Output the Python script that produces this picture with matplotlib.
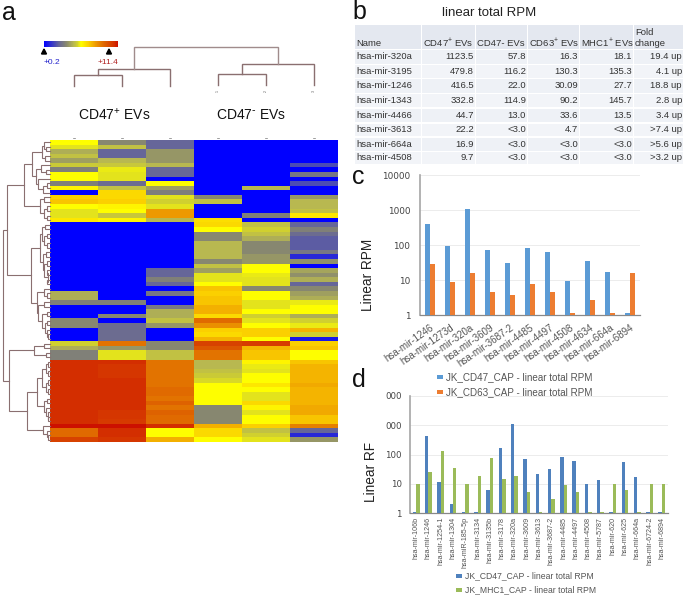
import numpy as np
import matplotlib
matplotlib.use("Agg")
import matplotlib.pyplot as plt
from matplotlib.colors import LinearSegmentedColormap
from matplotlib.patches import Rectangle, Polygon
from matplotlib.cm import ScalarMappable

plt.rcParams['font.family'] = ['Liberation Sans', 'DejaVu Sans']
plt.rcParams['mathtext.default'] = 'regular'

# ---------- data ----------
heat_rows = [
 [.50,.30,.20,0,0,0],[.47,.42,.20,0,0,0],[.38,.20,.33,0,0,0],[.42,.20,.33,0,0,0],
 [.35,.40,.33,0,0,0],[.44,.43,.40,0,0,.15],[.28,.48,.20,0,0,0],[.50,.47,.20,0,0,.25],
 [.50,.47,0,0,0,0],[.28,.22,.50,0,0,.15],[.52,.42,.35,0,.40,0],[0,.58,.27,0,0,0],
 [.60,.58,.47,.30,0,.33],[.62,.60,.45,.42,0,.40],[.50,.52,.47,0,0,.40],[.47,.50,.70,0,0,.42],
 [.47,.43,.70,0,.28,.55],[.55,.52,.40,.57,0,0],[0,0,0,.58,.42,.20],[0,0,0,.50,.45,.28],
 [0,0,0,.30,.42,.22],[0,0,0,.30,.38,.18],[0,0,0,.40,.30,.18],[0,0,0,.40,.30,.18],
 [0,0,0,.40,.30,.25],[0,0,0,.40,.33,.08],[0,0,0,.30,.33,.32],[0,0,0,.42,.50,0],
 [0,0,.20,.35,.50,.36],[0,0,.20,.47,.48,.32],[0,0,.28,.47,.47,.38],[0,0,.20,.50,.47,.20],
 [0,0,0,.62,.30,.30],[.38,0,.25,.60,.50,.35],[.38,0,0,.62,.50,.38],[.28,.28,0,.62,.47,.48],
 [0,0,.25,.66,.47,.50],[0,0,.38,.66,.50,.50],[0,.30,.38,.58,.45,.38],[.30,0,.42,.80,.47,.45],
 [.30,.22,.33,.72,.50,.48],[0,.22,0,.60,.60,.65],[0,.22,0,.58,.60,.45],[0,.22,0,.65,.50,.05],
 [.45,.78,.30,.90,.92,.60],[.38,.33,.30,.85,.65,.62],[.28,.47,.42,.78,.62,.50],[.28,.47,.42,.78,.62,.50],
 [.95,.95,.78,.40,.52,.62],[.95,.93,.78,.40,.48,.65],[.95,.93,.78,.42,.47,.65],[.95,.93,.78,.44,.50,.65],
 [.95,.95,.78,.46,.50,.65],[.95,.95,.78,.50,.55,.67],[.95,.95,.80,.50,.50,.65],[.95,.95,.80,.50,.47,.65],
 [.95,.95,.78,.50,.47,.65],[.95,.95,.82,.50,.58,.65],[.95,.95,.78,.30,.52,.67],[.95,.93,.82,.30,.47,.67],
 [.95,.93,.80,.30,.50,.62],[.95,.92,.80,.30,.50,.62],[1,1,.95,.66,.60,.75],[.80,.95,.50,.58,.42,.20],
 [.80,.95,.50,.58,.45,.08],[.90,.93,.66,.50,.47,.33],
]

table_header = ["Name", "CD47$^{+}$ EVs", "CD47- EVs", "CD63$^{+}$ EVs", "MHC1$^{+}$ EVs"]
table_header_last = ["Fold", "change"]
table_rows = [
 ["hsa-mir-320a","1123.5","57.8","16.3","18.1","19.4 up"],
 ["hsa-mir-3195","479.8","116.2","130.3","135.3","4.1 up"],
 ["hsa-mir-1246","416.5","22.0","30.09","27.7","18.8 up"],
 ["hsa-mir-1343","332.8","114.9","90.2","145.7","2.8 up"],
 ["hsa-mir-4466","44.7","13.0","33.6","13.5","3.4 up"],
 ["hsa-mir-3613","22.2","<3.0","4.7","<3.0",">7.4 up"],
 ["hsa-mir-664a","16.9","<3.0","<3.0","<3.0",">5.6 up"],
 ["hsa-mir-4508","9.7","<3.0","<3.0","<3.0",">3.2 up"],
]

c_labels = ["hsa-mir-1246","hsa-mir-1273d","hsa-mir-320a","hsa-mir-3609","hsa-mir-3687-2",
            "hsa-mir-4485","hsa-mir-4497","hsa-mir-4508","hsa-mir-4634","hsa-mir-664a","hsa-mir-6894"]
c_cd47 = [416, 95, 1123, 72, 31, 85, 64, 9.7, 35, 16.9, 1.15]
c_cd63 = [30, 9, 16.3, 4.7, 3.9, 8, 4.7, 1.15, 2.8, 1.15, 16]

d_labels = ["hsa-mir-106b","hsa-mir-1246","hsa-mir-1254-1","hsa-mir-1304","hsa-miR-185-5p","hsa-mir-3134",
            "hsa-mir-3135b","hsa-mir-3178","hsa-mir-320a","hsa-mir-3609","hsa-mir-3613","hsa-mir-3687-2",
            "hsa-mir-4485","hsa-mir-4497","hsa-mir-4508","hsa-mir-5787","hsa-mir-620","hsa-mir-625",
            "hsa-mir-664a","hsa-mir-6724-2","hsa-mir-6894"]
d_cd47 = [1.15, 420, 12, 2, 1.15, 1.15, 6, 170, 1120, 72, 22, 31, 83, 62, 9.7, 13.5, 1.15, 55, 17, 1.15, 1.15]
d_mhc1 = [9.7, 26, 130, 34, 9.7, 19, 75, 14.5, 18, 5.3, 1.15, 3, 9, 5.3, 1.15, 1.15, 9.7, 6.3, 1.15, 9.7, 10]

# row dendrogram: (join x in px, child, child); an int is a heatmap row
row_tree = (3,
  (7,
    (24,
      (32,(42,(44,0,(46,1,2)),(45,3,4)),(36,(41,5,(46,6,7)),(38,8,(43,(47,9,10),11)))),
      (40,(44,12,13),(44,(47,14,15),(47,16,17)))),
    (31,
      (40,(42,(45,18,19),(44,(47,20,21),(47,22,23))),(43,(46,24,25),(44,(47,26,27),(48,(47,28,29),(47,30,31))))),
      (37,(44,32,(47,33,34)),(38,(44,35,36),(42,(47,37,38),(45,(47,39,40),(47,41,(48,42,43))))))) ),
  (9,(34,(44,44,45),(46,46,47)),
     (27,(37,(42,(46,(48,48,49),(48,50,51)),(46,(48,52,53),(48,54,55))),(44,(47,56,57),(46,58,(48,59,(48,60,61))))),
         (43,62,(47,63,(48,64,65))))) )

# ---------- figure ----------
W, H = 685, 596
fig = plt.figure(figsize=(W/100, H/100), dpi=100, facecolor='white')
def px_axes(l, t, r, b, **kw):
    return fig.add_axes([l/W, 1-b/H, (r-l)/W, (b-t)/H], **kw)

cmap = LinearSegmentedColormap.from_list("hm", [
    (0, "#0000ff"), (.2, "#666699"), (.3, "#888870"), (.4, "#b8b850"), (.45, "#d0d030"),
    (.5, "#ffff00"), (.6, "#fbd000"), (.7, "#ee9a00"), (.8, "#e06a00"), (.95, "#d43000"), (1, "#cc1000")])

# heatmap
ax = px_axes(50, 140, 338, 442)
ax.imshow(np.array(heat_rows), cmap=cmap, vmin=0, vmax=1, aspect='auto', interpolation='nearest')
ax.axis('off')

# colour key
cax = px_axes(44, 41, 118, 47)
cb = fig.colorbar(ScalarMappable(cmap=cmap), cax=cax, orientation='horizontal')
cb.outline.set_visible(False)
cb.set_ticks([])

# overlay in pixel coordinates
top = fig.add_axes([0, 0, 1, 1], zorder=5)
top.set_xlim(0, W); top.set_ylim(H, 0); top.axis('off'); top.patch.set_alpha(0)

tree_color = "#8a6f70"
def row_y(i):
    return 140 + (i + .5) * 302 / len(heat_rows)
def draw_tree(node):
    if isinstance(node, int):
        return 50, row_y(node)
    x, a, b = node
    xa, ya = draw_tree(a)
    xb, yb = draw_tree(b)
    top.plot([xa, x, x, xb], [ya, ya, yb, yb], color=tree_color, lw=0.8, solid_joinstyle='miter')
    return x, (ya + yb) / 2
draw_tree(row_tree)

# column dendrogram
col_x = [74, 122, 170, 218, 266, 314]
def bracket(x1, y1, x2, y2, ytop, c=tree_color, lw=1.0):
    top.plot([x1, x1, x2, x2], [y1, ytop, ytop, y2], color=c, lw=lw, solid_joinstyle='miter')
bracket(col_x[0], 86, col_x[1], 86, 75)
bracket(98, 75, col_x[2], 86, 69)
bracket(col_x[3], 85, col_x[4], 85, 74)
bracket(242, 74, col_x[5], 85, 64)
bracket(134, 69, 278, 64, 47, c="#a08c8c")
for x, s in zip(col_x[3:], "123"):
    top.text(x, 91, s, fontsize=2.5, rotation=90, ha='center', va='center', color='#555555')
for x in col_x:
    top.plot([x-1, x+1], [138, 138], color='#777777', lw=0.5)

# colour key markers and labels
top.add_patch(Polygon([(41.5, 54), (46.5, 54), (44, 49)], color='black'))
top.add_patch(Polygon([(106.5, 54), (111.5, 54), (109, 49)], color='black'))
top.text(51.5, 62, "+0.2", color='#2222cc', fontsize=6, ha='center', va='center')
top.text(108, 62, "+11.4", color='#b02020', fontsize=6, ha='center', va='center')

top.text(114, 115, "CD47$^{+}$ EVs", fontsize=10, ha='center', va='center', color='#111111')
top.text(251, 115, r"CD47$^{\text{-}}$ EVs", fontsize=10, ha='center', va='center', color='#111111')

# panel letters
for s, x, y in [("a", 2, 13), ("b", 352, 12), ("c", 352, 177), ("d", 352, 380)]:
    top.text(x, y, s, fontsize=18, ha='left', va='center', color='#111111')

# table b
top.text(442, 13, "linear total RPM", fontsize=9.5, ha='left', va='center', color='#222222')
col_edges = [(355, 421), (422.5, 475), (476.5, 527), (528, 579), (580.5, 633), (634, 683)]
row_edges = [(25, 49), (50, 63.5), (64.5, 78), (79, 92.5), (94, 107), (108.5, 122), (123.5, 136), (137.5, 151), (152, 164)]
cell_fs = 6.8
for i, (y0, y1) in enumerate(row_edges):
    for j, (x0, x1) in enumerate(col_edges):
        fc = '#e4e8f0' if i == 0 else ('#eef1f6' if i % 2 else '#f2f4f8')
        top.add_patch(Rectangle((x0, y0), x1-x0, y1-y0, fc=fc, ec='none', zorder=1))
        if i == 0:
            if j == 5:
                top.text(x0+1, 35, table_header_last[0], fontsize=cell_fs, ha='left', va='baseline',
                         color='#333333', zorder=2)
                top.text(x0+1, 46.5, table_header_last[1], fontsize=cell_fs, ha='left', va='baseline',
                         color='#333333', zorder=2)
            else:
                top.text(x0+1, 46.5, table_header[j], fontsize=cell_fs, ha='left', va='baseline',
                         color='#333333', zorder=2)
        else:
            s = table_rows[i-1][j]
            ym = (y0+y1)/2
            if j == 0:
                top.text(x0+1, ym, s, fontsize=cell_fs, ha='left', va='center', color='#333333', zorder=2)
            else:
                top.text(x1-1, ym, s, fontsize=cell_fs, ha='right', va='center', color='#333333', zorder=2)

# bar charts
def bars(axb, labels, a, b, ca, cb_, off, w, lab_kw, ticklabels, tfs, xpad, ypad):
    xs = np.arange(len(labels))
    axb.bar(xs-off, a, width=w, color=ca, zorder=3)
    axb.bar(xs+off, b, width=w, color=cb_, zorder=3)
    axb.set_yscale('log')
    axb.set_ylim(1, 10000)
    axb.set_xlim(-.5, len(labels)-.5)
    axb.set_yticks([1, 10, 100, 1000, 10000])
    axb.set_yticklabels(ticklabels, fontsize=tfs, color='#444444', family='DejaVu Sans')
    axb.minorticks_off()
    axb.tick_params(axis='y', length=0, pad=ypad)
    axb.tick_params(axis='x', length=0, pad=xpad)
    axb.set_xticks(xs)
    axb.set_xticklabels(labels, color='#555555', **lab_kw)
    axb.grid(axis='y', color='#ececec', lw=0.7, zorder=0)
    for s in ('top', 'right'):
        axb.spines[s].set_visible(False)
    axb.spines['left'].set_color('#a6a6a6'); axb.spines['left'].set_linewidth(1.2)
    axb.spines['bottom'].set_color('#888888'); axb.spines['bottom'].set_linewidth(0.9)
    axb.patch.set_alpha(0)

axc = px_axes(420, 175.3, 640, 315.3, zorder=6)
bars(axc, c_labels, c_cd47, c_cd63, '#5b9bd5', '#ed7d31', .14, .24,
     dict(rotation=35, ha='right', va='top', rotation_mode='anchor', fontsize=7),
     ["1", "10", "100", "1000", "10000"], 6.4, 5, 7)
top.text(368, 275, "Linear RPM", fontsize=9.8, rotation=90, ha='center', va='center', color='#222222')

axd = px_axes(410, 395.7, 668, 513.3, zorder=6)
bars(axd, d_labels, d_cd47, d_mhc1, '#4f81bd', '#9bbb59', .14, .27,
     dict(rotation=90, ha='center', va='top', fontsize=5.1),
     ["1", "10", "100", "000", "000"], 6.2, 2.5, 6)
top.text(371, 472, "Linear RF", fontsize=9.8, rotation=90, ha='center', va='center', color='#222222')

# legends
def legend(x, y, color, s, fs):
    top.add_patch(Rectangle((x, y-2), 6, 4, fc=color, ec='none'))
    top.text(x+9, y, s, fontsize=fs, ha='left', va='center', color='#555555')
legend(437, 377, '#5b9bd5', "JK_CD47_CAP - linear total RPM", 7.1)
legend(437, 392, '#ed7d31', "JK_CD63_CAP - linear total RPM", 7.1)
legend(456, 576, '#4f81bd', "JK_CD47_CAP - linear total RPM", 6.2)
legend(456, 590, '#9bbb59', "JK_MHC1_CAP - linear total RPM", 6.2)

fig.savefig("out.png", dpi=100)
